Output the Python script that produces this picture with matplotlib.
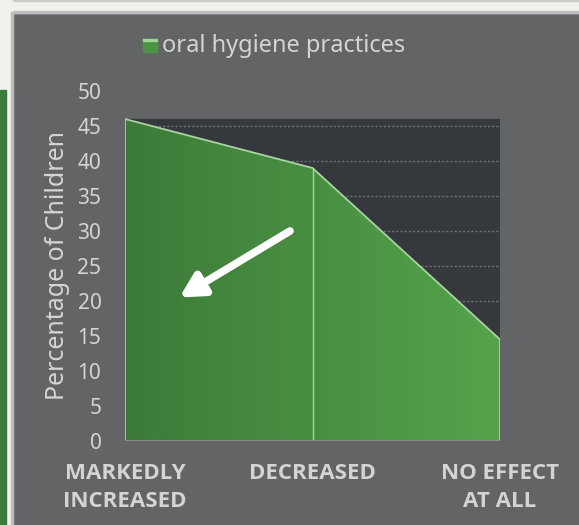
import matplotlib
matplotlib.use("Agg")
import matplotlib.pyplot as plt
import numpy as np
from matplotlib.patches import Rectangle, Polygon
from matplotlib.colors import LinearSegmentedColormap

categories = ["MARKEDLY\nINCREASED", "DECREASED", "NO EFFECT\nAT ALL"]
values = [46, 39, 14.5]
series_name = "oral hygiene practices"
y_ticks = [0, 5, 10, 15, 20, 25, 30, 35, 40, 45, 50]
y_label = "Percentage of Children"

plt.rcParams['font.family'] = ['Noto Sans', 'DejaVu Sans']

PANEL = "#636466"
DARK = "#35383c"
TXT = "#d4d4d4"
G_LEFT = "#3d7a39"
G_RIGHT = "#54a44b"
OUTLINE = "#a9d3a2"

fig = plt.figure(figsize=(5.79, 5.25), dpi=100)
fig.patch.set_facecolor(PANEL)

# slide frame decorations (figure coords)
W, H = 579, 525
def frect(x, y, w, h, c, z=0):
    fig.patches.append(Rectangle((x / W, 1 - (y + h) / H), w / W, h / H,
                                 transform=fig.transFigure, color=c, zorder=z))
frect(0, 0, W, 13, "#f2f1ec")
frect(0, 0, W, 1.2, "#c9c9c9")
frect(0, 11.5, W, 1.5, "#bdbdbd")
frect(0, 0, 12, H, "#f2f1ec")
frect(11, 12, 1.5, H, "#bdbdbd")
frect(0, 90, 5.5, H, "#3c7a3a")

ax = fig.add_axes([125 / W, 1 - 441 / H, 375 / W, 350 / H])
ax.set_facecolor(PANEL)
x = np.arange(len(categories))
ax.set_xlim(0, len(categories) - 1)
ax.set_ylim(0, 50)

# dark plot background up to first value
ax.add_patch(Rectangle((0, 0), len(categories) - 1, max(values), color=DARK, zorder=0))

for t in y_ticks[1:-1]:
    ax.axhline(t, color="#707378", lw=1.0, ls=(0, (1.5, 1.5)), zorder=1)

# gradient area
grad = LinearSegmentedColormap.from_list("g", [G_LEFT, G_RIGHT])
img = ax.imshow(np.linspace(0, 1, 256).reshape(1, -1), cmap=grad, aspect="auto",
                extent=[0, len(categories) - 1, 0, 50], zorder=2)
verts = [(0, 0)] + list(zip(x, values)) + [(x[-1], 0)]
poly = Polygon(verts, closed=True, facecolor="none", edgecolor="none")
ax.add_patch(poly)
img.set_clip_path(poly)
ax.add_patch(Polygon(verts, closed=True, facecolor="none", edgecolor=OUTLINE,
                     lw=1.3, zorder=3))
for xi, v in zip(x[1:-1], values[1:-1]):
    ax.plot([xi, xi], [0, v], color=OUTLINE, lw=1.0, zorder=3)

ax.axhline(0, color="#8a8a8a", lw=1.5, zorder=4)

ax.annotate("", xy=(0.29, 20.5), xytext=(0.88, 30.0),
            arrowprops=dict(arrowstyle="-|>,head_length=1.4,head_width=0.75",
                            color="white", lw=5.5, capstyle="round",
                            shrinkA=0, shrinkB=0), zorder=5)

for s in ax.spines.values():
    s.set_visible(False)
ax.set_yticks(y_ticks)
ax.set_yticklabels([str(t) for t in y_ticks], color=TXT, fontsize=15)
ax.set_xticks(x)
ax.set_xticklabels(categories, color=TXT, fontsize=16, fontweight="bold",
                   family=["Open Sans", "DejaVu Sans"], linespacing=1.4)
ax.tick_params(length=0)
ax.tick_params(axis="y", pad=17)
ax.tick_params(axis="x", pad=16)
ax.set_ylabel(y_label, color=TXT, fontsize=18, labelpad=5)

# legend
fig.text(162 / W, 1 - 46 / H, series_name, color=TXT, fontsize=17,
         ha="left", va="center")
frect(143, 39, 14, 13, "#4a9443", z=3)
frect(143, 39, 14, 1.5, "#9fd496", z=4)

fig.savefig("out.png", dpi=100, facecolor=fig.get_facecolor())
